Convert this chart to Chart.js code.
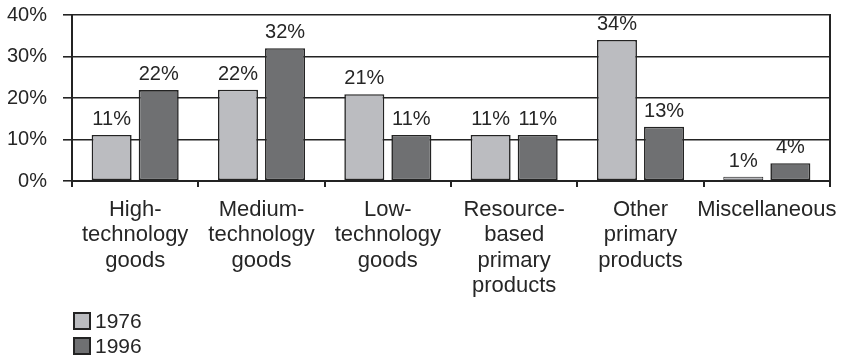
<!DOCTYPE html>
<html>
<head>
<meta charset="utf-8">
<title>Exports by technology</title>
<script src="https://cdn.jsdelivr.net/npm/chart.js@4/dist/chart.umd.min.js"></script>
<style>
  body { margin: 0; background: #fff; }
  .grafica { position: relative; width: 844px; height: 359px; }
</style>
</head>
<body>
<div class="grafica"><canvas id="exportChart"></canvas></div>
<script>
// Datos
const categorias = [
  ['High-', 'technology', 'goods'],
  ['Medium-', 'technology', 'goods'],
  ['Low-', 'technology', 'goods'],
  ['Resource-', 'based', 'primary', 'products'],
  ['Other', 'primary', 'products'],
  ['Miscellaneous']
];
const valores1976 = [11.1, 22, 20.9, 11.1, 34, 1];
const valores1996 = [21.9, 32, 11.1, 11.1, 13.1, 4.3];
const ticksY = [0, 10, 20, 30, 40];

const TEXTO = '#262626';
const LINEA = '#232323';
const FUENTE = '"Liberation Sans", Arial, Helvetica, sans-serif';

// borde mas fino en barras muy bajas para que se vea el relleno
const anchoBorde = ctx => (ctx.raw < 2 ? 1 : 1.6);

// Etiquetas de valor encima de cada barra
const etiquetasBarras = {
  id: 'etiquetasBarras',
  afterDatasetsDraw(chart) {
    const ctx = chart.ctx;
    ctx.save();
    ctx.font = '20px ' + FUENTE;
    ctx.fillStyle = TEXTO;
    ctx.textAlign = 'center';
    ctx.textBaseline = 'alphabetic';
    chart.data.datasets.forEach((ds, i) => {
      chart.getDatasetMeta(i).data.forEach((barra, j) => {
        ctx.fillText(Math.round(ds.data[j]) + '%', barra.x, barra.y - 10);
      });
    });
    ctx.restore();
  }
};

// Leyenda vertical abajo a la izquierda
const leyendaVertical = {
  id: 'leyendaVertical',
  afterDraw(chart) {
    const ctx = chart.ctx;
    ctx.save();
    ctx.font = '21px ' + FUENTE;
    ctx.textBaseline = 'middle';
    ctx.textAlign = 'left';
    chart.data.datasets.forEach((ds, i) => {
      const y = 313 + i * 25;
      ctx.fillStyle = ds.backgroundColor;
      ctx.fillRect(74, y, 16, 16);
      ctx.strokeStyle = LINEA;
      ctx.lineWidth = 2;
      ctx.strokeRect(74, y, 16, 16);
      ctx.fillStyle = TEXTO;
      ctx.fillText(ds.label, 95, y + 9);
    });
    ctx.restore();
  }
};

new Chart(document.getElementById('exportChart'), {
  type: 'bar',
  data: {
    labels: categorias,
    datasets: [
      {
        label: '1976',
        data: valores1976,
        backgroundColor: '#bbbcc0',
        borderColor: LINEA,
        borderWidth: anchoBorde,
        borderSkipped: false,
        categoryPercentage: 0.745,
        barPercentage: 0.85
      },
      {
        label: '1996',
        data: valores1996,
        backgroundColor: '#6f7072',
        borderColor: LINEA,
        borderWidth: anchoBorde,
        borderSkipped: false,
        categoryPercentage: 0.745,
        barPercentage: 0.85
      }
    ]
  },
  options: {
    responsive: true,
    maintainAspectRatio: false,
    animation: false,
    layout: { padding: { top: 15, right: 14, bottom: 58, left: 0 } },
    plugins: {
      legend: { display: false },
      tooltip: { enabled: false }
    },
    scales: {
      x: {
        grid: {
          offset: true,
          drawOnChartArea: false,
          color: LINEA,
          lineWidth: 2,
          tickLength: 6
        },
        border: { color: LINEA, width: 2 },
        ticks: {
          color: TEXTO,
          padding: 10,
          maxRotation: 0,
          autoSkip: false,
          font: { family: FUENTE, size: 22, lineHeight: 1.16 }
        },
        afterFit(scale) {
          scale.height = 120;
          scale.paddingLeft = 0;
          scale.paddingRight = 0;
        }
      },
      y: {
        min: ticksY[0],
        max: ticksY[ticksY.length - 1],
        afterBuildTicks(scale) {
          scale.ticks = ticksY.map(v => ({ value: v }));
        },
        grid: { color: LINEA, lineWidth: 1.6, tickLength: 9 },
        border: { color: LINEA, width: 2 },
        ticks: {
          color: TEXTO,
          padding: 16,
          font: { family: FUENTE, size: 20 },
          callback: v => v + '%'
        },
        afterFit(scale) {
          scale.width = 72;
          scale.paddingTop = 0;
          scale.paddingBottom = 0;
        }
      },
      yDerecha: {
        position: 'right',
        min: 0,
        max: 40,
        grid: { display: false },
        ticks: { display: false },
        border: { color: LINEA, width: 2 },
        afterFit(scale) {
          scale.width = 0;
        }
      }
    }
  },
  plugins: [etiquetasBarras, leyendaVertical]
});
</script>
</body>
</html>
